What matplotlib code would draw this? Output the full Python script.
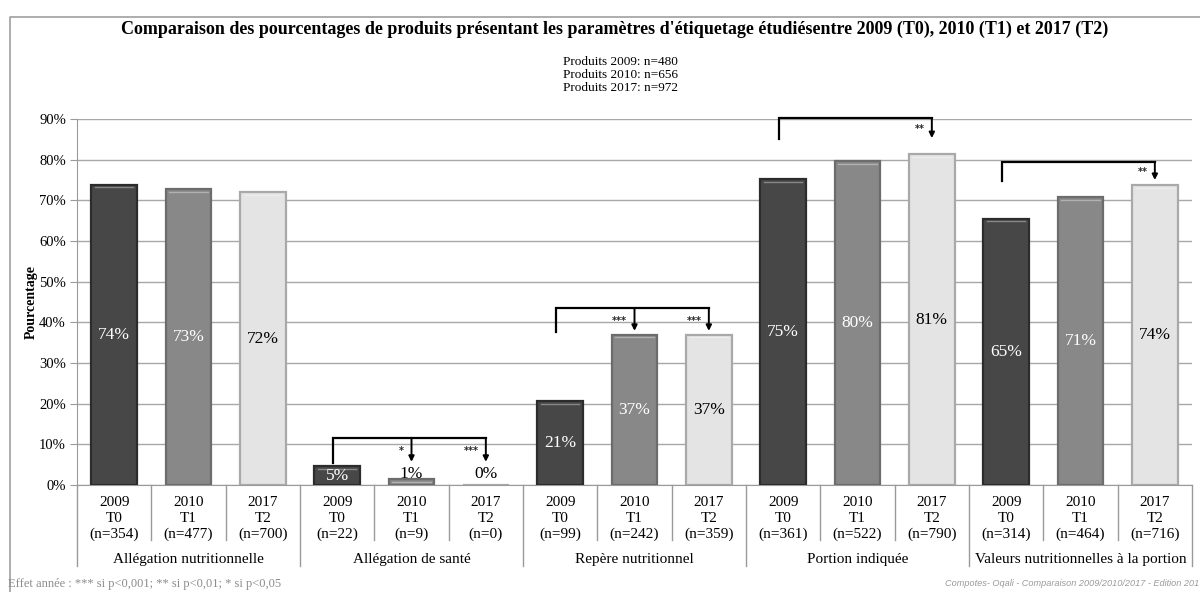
import numpy as np
import matplotlib
matplotlib.use('Agg')
from matplotlib import pyplot as plt
from matplotlib.lines import Line2D

plt.rcParams['font.family'] = ['Liberation Serif', 'DejaVu Serif']

# donnees
groupes = ['Allégation nutritionnelle', 'Allégation de santé', 'Repère nutritionnel',
           'Portion indiquée', 'Valeurs nutritionnelles à la portion']
annees = ['2009', '2010', '2017']
temps = ['T0', 'T1', 'T2']
pct_2009 = [73.8, 4.6, 20.6, 75.2, 65.4]
pct_2010 = [72.7, 1.4, 36.9, 79.6, 70.7]
pct_2017 = [72.0, 0.0, 36.9, 81.3, 73.7]
n_2009 = [354, 22, 99, 361, 314]
n_2010 = [477, 9, 242, 522, 464]
n_2017 = [700, 0, 359, 790, 716]
produits = ['Produits 2009: n=480', 'Produits 2010: n=656', 'Produits 2017: n=972']

# tests : (groupe, haut du crochet, bas, [(annee cible, etoiles)])
tests = [
    (1, 11.6, 5.5, [(1, '*'), (2, '***')]),
    (2, 43.5, 37.7, [(1, '***'), (2, '***')]),
    (3, 90.2, 85.1, [(2, '**')]),
    (4, 79.4, 74.8, [(2, '**')]),
]

couleurs = ['#474747', '#888888', '#e4e4e4']
bords = ['#2c2c2c', '#6c6c6c', '#a9a9a9']
textes = ['white', 'white', 'black']

fig = plt.figure(figsize=(12, 5.92), dpi=100)
ax = fig.add_axes([77 / 1200, 1 - 485 / 592, (1192 - 77) / 1200, 366 / 592])

# cadre exterieur (coupe a droite et en bas)
fig.add_artist(Line2D([10 / 1200, 10 / 1200, 1.0], [0.0, 1 - 17 / 592, 1 - 17 / 592],
                      transform=fig.transFigure, color='#a0a0a0', lw=1.2))

valeurs = [pct_2009, pct_2010, pct_2017]
effectifs = [n_2009, n_2010, n_2017]
for g in range(len(groupes)):
    for a in range(3):
        x = g * 3 + a
        v = valeurs[a][g]
        ax.bar(x, v, width=0.61, color=couleurs[a], edgecolor=bords[a],
               linewidth=1.6, zorder=3)
        if v > 0:
            ax.plot([x - 0.26, x + 0.26], [v - 0.6, v - 0.6], color='white',
                    alpha=0.35, lw=1, zorder=4)
        if v >= 4:
            ty, tc = v / 2, textes[a]
        else:
            ty, tc = 2.8, 'black'
        ax.text(x, ty, f'{round(v):.0f}%', ha='center', va='center',
                color=tc, fontsize=12.5, zorder=5)

ax.set_xlim(-0.5, 14.5)
ax.set_ylim(0, 90)
ax.set_yticks(np.arange(0, 91, 10))
ax.set_yticklabels([f'{t}%' for t in range(0, 91, 10)], fontsize=10.5)
ax.yaxis.grid(True, color='#a8a8a8', lw=1)
ax.set_axisbelow(True)
ax.set_xticks([])
for s in ['top', 'right']:
    ax.spines[s].set_visible(False)
for s in ['left', 'bottom']:
    ax.spines[s].set_color('#9a9a9a')
ax.tick_params(axis='y', direction='out', length=5, color='#9a9a9a', pad=3)
ax.set_ylabel('Pourcentage', fontsize=10, fontweight='bold', labelpad=1)


def fy(py):
    return (485 - py) / 366


trans = ax.get_xaxis_transform()
for b in range(16):
    xb = b - 0.5
    bas = 566 if b % 3 == 0 else 540
    ax.plot([xb, xb], [0, fy(bas)], transform=trans, color='#9a9a9a',
            lw=1, clip_on=False)

for g in range(len(groupes)):
    for a in range(3):
        x = g * 3 + a
        for txt, py in [(annees[a], 503), (temps[a], 518.5),
                        (f'(n={effectifs[a][g]})', 534)]:
            ax.text(x, fy(py), txt, transform=trans, ha='center',
                    va='center', fontsize=11)
    ax.text(g * 3 + 1, fy(559), groupes[g], transform=trans, ha='center',
            va='center', fontsize=11)

# crochets de significativite
for g, haut, bas, cibles in tests:
    x0 = g * 3
    xf = g * 3 + max(c for c, _ in cibles)
    ax.plot([x0 - 0.05, x0 - 0.05, xf], [bas, haut, haut], color='black',
            lw=1.6, clip_on=False, zorder=6, solid_joinstyle='miter')
    for c, etoiles in cibles:
        xc = g * 3 + c
        ax.annotate('', xy=(xc, bas + 0.2), xytext=(xc, haut),
                    arrowprops=dict(arrowstyle='-|>', color='black', lw=1.4,
                                    mutation_scale=8, shrinkA=0, shrinkB=0),
                    annotation_clip=False, zorder=6)
        ax.text(xc - 0.1, (haut + bas) / 2 - 0.2, etoiles, ha='right',
                va='center', fontsize=7, color='#222222', zorder=6,
                family='DejaVu Sans', fontweight='bold')

fig.text(0.512, 1 - 29 / 592, "Comparaison des pourcentages de produits présentant "
         "les paramètres d'étiquetage étudiésentre 2009 (T0), 2010 (T1) et 2017 (T2)",
         ha='center', va='center', fontsize=13, fontweight='bold')
for i, p in enumerate(produits):
    fig.text(0.517, 1 - (62 + 13 * i) / 592, p, ha='center', va='center',
             fontsize=9.5)

fig.text(8 / 1200, 1 - 584 / 592,
         'Effet année : *** si p<0,001; ** si p<0,01; * si p<0,05',
         ha='left', va='center', fontsize=9, color='#8c8c8c')
fig.text(1199 / 1200, 1 - 584 / 592,
         'Compotes- Oqali - Comparaison 2009/2010/2017 - Edition 201',
         ha='right', va='center', fontsize=6.6, color='#9a9a9a', style='italic',
         family=['Liberation Sans Narrow', 'Liberation Sans', 'DejaVu Sans'])

fig.savefig('out.png', dpi=100)
